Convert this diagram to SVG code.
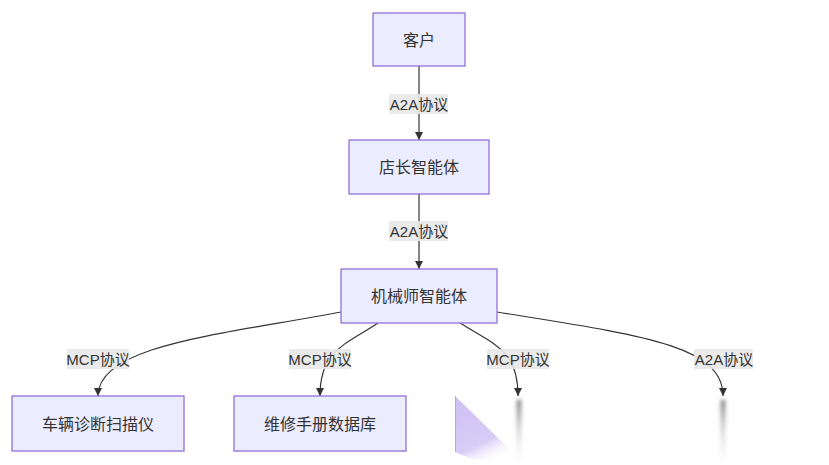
<svg xmlns="http://www.w3.org/2000/svg" width="829" height="465" viewBox="0 0 829 465">
<style>
.node rect{fill:#ECECFF;stroke:#9370DB;stroke-width:1.3;}
text{font-family:"Liberation Sans","Noto Sans CJK SC",sans-serif;fill:#333;text-anchor:middle;dominant-baseline:central;font-size:16px;}
.edge{fill:none;stroke:#333;stroke-width:1.2;}
.lbl rect{fill:#e8e8e8;opacity:0.9;}
.lbl text{font-size:15px;}
</style>
<defs>
<marker id="arr" viewBox="0 0 10 10" refX="10" refY="5" markerWidth="8" markerHeight="8" markerUnits="userSpaceOnUse" orient="auto">
<path d="M0,0 L10,5 L0,10 z" fill="#333"/>
</marker>
<linearGradient id="tri" x1="0" y1="0" x2="0.5" y2="1">
<stop offset="0" stop-color="#cdbff4"/>
<stop offset="0.7" stop-color="#d8cdf7"/>
<stop offset="1" stop-color="#ffffff" stop-opacity="0"/>
</linearGradient>
<linearGradient id="shade" x1="0" y1="0" x2="0" y2="1">
<stop offset="0" stop-color="#555" stop-opacity="0.9"/>
<stop offset="0.5" stop-color="#999" stop-opacity="0.4"/>
<stop offset="1" stop-color="#ccc" stop-opacity="0"/>
</linearGradient>
<filter id="blur" x="-3" y="-0.2" width="7" height="1.4"><feGaussianBlur stdDeviation="2.2"/></filter>
<filter id="blur2" x="-0.3" y="-0.3" width="1.6" height="1.6"><feGaussianBlur stdDeviation="0.6"/></filter>
</defs>
<g id="connectors">
<path class="edge" d="M419,66 L419,140" marker-end="url(#arr)"/>
<path class="edge" d="M419,194 L419,269" marker-end="url(#arr)"/>
<path class="edge" d="M341,312 C220,335 98,345 98,396" marker-end="url(#arr)"/>
<path class="edge" d="M378,323 C345,345 320,350 320,396" marker-end="url(#arr)"/>
<path class="edge" d="M460,323 C495,345 518,350 518,396" marker-end="url(#arr)"/>
<path class="edge" d="M497,312 C640,335 723,345 723,396" marker-end="url(#arr)"/>
</g>
<g id="labels">
<g class="lbl"><rect x="389" y="94" width="59" height="20"/><text x="419" y="104">A2A协议</text></g>
<g class="lbl"><rect x="389" y="221" width="59" height="20"/><text x="419" y="231">A2A协议</text></g>
<g class="lbl"><rect x="67" y="349" width="62" height="20"/><text x="98" y="359">MCP协议</text></g>
<g class="lbl"><rect x="289" y="349" width="62" height="20"/><text x="320" y="359">MCP协议</text></g>
<g class="lbl"><rect x="487" y="349" width="62" height="20"/><text x="518" y="359">MCP协议</text></g>
<g class="lbl"><rect x="694" y="349" width="59" height="20"/><text x="724" y="359">A2A协议</text></g>
</g>
<g id="customer" class="node"><rect x="373" y="13" width="92" height="53"/><text x="419" y="40">客户</text></g>
<g id="manager" class="node"><rect x="349" y="140" width="140" height="54"/><text x="419" y="167">店长智能体</text></g>
<g id="mechanic" class="node"><rect x="341" y="269" width="156" height="54"/><text x="419" y="296">机械师智能体</text></g>
<g id="scanner" class="node"><rect x="12" y="396" width="172" height="55"/><text x="98" y="424">车辆诊断扫描仪</text></g>
<g id="manual" class="node"><rect x="234" y="396" width="172" height="55"/><text x="320" y="424">维修手册数据库</text></g>
<g id="artifacts">
<polygon points="455,396 455,452 472,459 526,465" fill="url(#tri)" filter="url(#blur2)"/>
<line x1="455.5" y1="396" x2="455.5" y2="452" stroke="#b8a6ea" stroke-width="1"/>
<rect x="517" y="400" width="4" height="65" fill="url(#shade)" filter="url(#blur)"/>
<rect x="721" y="400" width="4" height="65" fill="url(#shade)" filter="url(#blur)"/>
</g>
</svg>
